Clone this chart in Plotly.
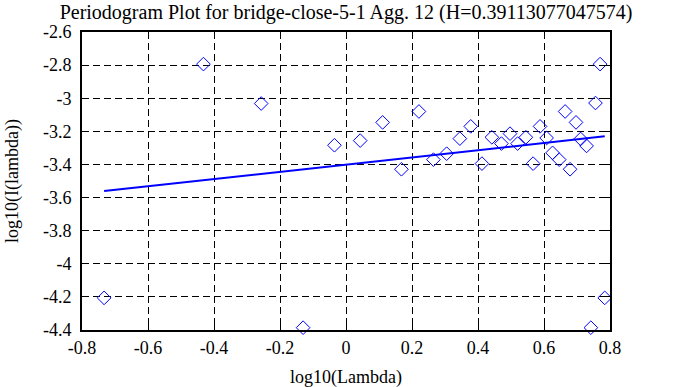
import plotly.graph_objects as go

# Periodogram points (log10 frequency vs log10 periodogram)
x_vals = [-0.733, -0.432, -0.257, -0.130, -0.035, 0.043, 0.111, 0.168, 0.221, 0.265,
          0.305, 0.345, 0.378, 0.412, 0.442, 0.471, 0.497, 0.520, 0.545, 0.567,
          0.588, 0.608, 0.626, 0.646, 0.664, 0.679, 0.697, 0.711, 0.729, 0.742,
          0.756, 0.770, 0.784]
y_vals = [-4.206, -2.794, -3.032, -4.386, -3.284, -3.256, -3.146, -3.429, -3.080, -3.371,
          -3.335, -3.244, -3.170, -3.395, -3.236, -3.274, -3.214, -3.274, -3.236, -3.395,
          -3.170, -3.240, -3.330, -3.371, -3.080, -3.429, -3.146, -3.246, -3.288, -4.386,
          -3.029, -2.794, -4.206]

# Fitted regression line end points
line_x = [-0.733, 0.784]
line_y = [-3.561, -3.230]

x_tick_vals = [-0.8, -0.6, -0.4, -0.2, 0, 0.2, 0.4, 0.6, 0.8]
x_tick_text = ["-0.8", "-0.6", "-0.4", "-0.2", "0", "0.2", "0.4", "0.6", "0.8"]
y_tick_vals = [-2.6, -2.8, -3.0, -3.2, -3.4, -3.6, -3.8, -4.0, -4.2, -4.4]
y_tick_text = ["-2.6", "-2.8", "-3", "-3.2", "-3.4", "-3.6", "-3.8", "-4", "-4.2", "-4.4"]

title_text = "Periodogram Plot for bridge-close-5-1 Agg. 12 (H=0.39113077047574)"
x_title = "log10(Lambda)"
y_title = "log10(I(lambda))"

FONT = "Liberation Serif"
FS = 18

fig = go.Figure()
fig.add_trace(go.Scatter(
    x=x_vals, y=y_vals, mode="markers",
    marker=dict(symbol="diamond-open", size=10.5, color="#0000ff",
                line=dict(width=1, color="#0000ff")),
    cliponaxis=False, showlegend=False))
fig.add_trace(go.Scatter(
    x=line_x, y=line_y, mode="lines",
    line=dict(color="#0000ff", width=2), showlegend=False))

axis_common = dict(
    showline=True, linewidth=2, linecolor="black", mirror="ticks",
    ticks="inside", ticklen=7, tickwidth=1, tickcolor="black",
    showgrid=True, gridcolor="black", gridwidth=1, griddash="7px,4px",
    zeroline=False, tickfont=dict(family=FONT, size=FS, color="black"),
)

fig.update_xaxes(range=[-0.8, 0.8], tickmode="array", tickvals=x_tick_vals,
                 ticktext=x_tick_text, **axis_common)
fig.update_yaxes(range=[-4.4, -2.6], tickmode="array", tickvals=y_tick_vals,
                 ticktext=y_tick_text, ticklabelstandoff=5, **axis_common)

fig.update_layout(
    width=683, height=387, autosize=False,
    margin=dict(l=82, r=73, t=32, b=57),
    paper_bgcolor="white", plot_bgcolor="white",
    font=dict(family=FONT, size=FS, color="black"),
    title=dict(text=title_text, x=0.5, xref="paper", xanchor="center",
               y=1 - 11.5 / 387, yref="container", yanchor="middle",
               font=dict(family=FONT, size=20, color="black")),
    annotations=[
        dict(text=x_title, xref="paper", yref="paper", x=0.5, y=0,
             xanchor="center", yanchor="middle", yshift=-47, showarrow=False,
             font=dict(family=FONT, size=FS, color="black")),
        dict(text=y_title, xref="paper", yref="paper", x=0, y=0.5,
             xanchor="center", yanchor="middle", xshift=-70, textangle=-90,
             showarrow=False, font=dict(family=FONT, size=FS, color="black")),
    ],
)

fig.write_html("out.html", config={"displayModeBar": False},
               post_script="document.body.style.margin='0';document.body.style.padding='0';")
